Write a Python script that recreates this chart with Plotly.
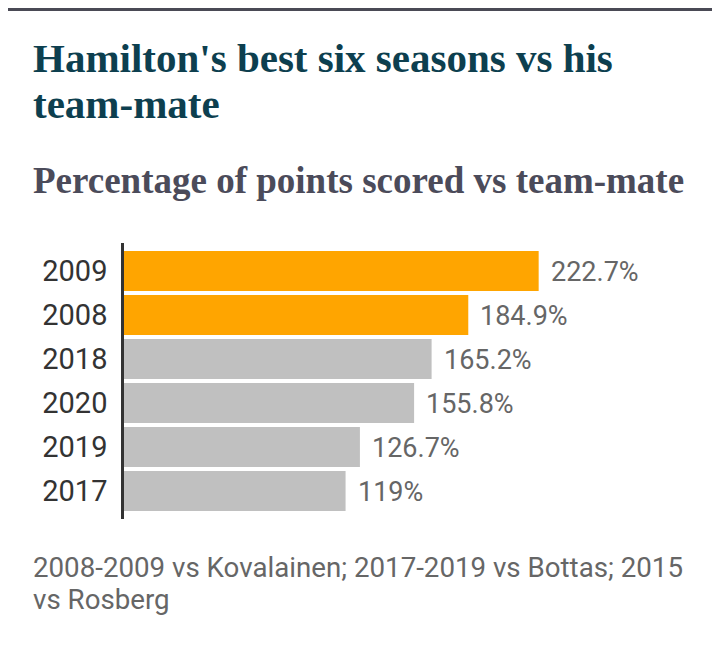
import plotly.graph_objects as go

# ---- data ----
years = ["2009", "2008", "2018", "2020", "2019", "2017"]
pct = [222.7, 184.9, 165.2, 155.8, 126.7, 119]
value_labels = ["222.7%", "184.9%", "165.2%", "155.8%", "126.7%", "119%"]
highlight = [True, True, False, False, False, False]

title_lines = ["Hamilton's best six seasons vs his", "team-mate"]
subtitle = "Percentage of points scored vs team-mate"
footer_lines = ["2008-2009 vs Kovalainen; 2017-2019 vs Bottas; 2015", "vs Rosberg"]

# ---- layout geometry (page body adds an 8px offset) ----
OFF = 8
W, H = 720 - OFF, 650 - OFF
L = 124 - OFF
T = 243 - OFF
B = H - (519 - OFF)
R = 20
PW, PH = W - L - R, H - T - B


def px_x(p):
    """screen pixel x -> paper x"""
    return (p - OFF - L) / PW


def px_y(p):
    """screen pixel y -> paper y"""
    return (H - B - (p - OFF)) / PH


ORANGE = "#FFA500"
GREY = "#C0C0C0"
colors = [ORANGE if h else GREY for h in highlight]

fig = go.Figure(
    go.Bar(
        x=pct,
        y=years,
        orientation="h",
        marker=dict(color=colors, line=dict(width=0)),
        hoverinfo="skip",
    )
)

annotations = []
for i, (v, lab) in enumerate(zip(pct, value_labels)):
    annotations.append(dict(
        x=v, y=i, xref="x", yref="y", text=lab, showarrow=False,
        xanchor="left", yanchor="middle", xshift=10, yshift=-1,
        font=dict(family="Roboto", size=27, color="#666666"),
    ))

title_font = dict(family="Liberation Serif", size=41, color="#0d3f4f")
annotations.append(dict(x=px_x(31), y=px_y(58), xref="paper", yref="paper",
                        text="<b>%s</b>" % title_lines[0], showarrow=False,
                        xanchor="left", yanchor="middle", font=title_font))
annotations.append(dict(x=px_x(31), y=px_y(104), xref="paper", yref="paper",
                        text="<b>%s</b>" % title_lines[1], showarrow=False,
                        xanchor="left", yanchor="middle", font=title_font))
annotations.append(dict(x=px_x(31), y=px_y(181), xref="paper", yref="paper",
                        text="<b>%s</b>" % subtitle, showarrow=False,
                        xanchor="left", yanchor="middle",
                        font=dict(family="Liberation Serif", size=37, color="#4b4b5a")))
foot_font = dict(family="Roboto", size=27.7, color="#666666")
annotations.append(dict(x=px_x(31), y=px_y(567), xref="paper", yref="paper",
                        text=footer_lines[0], showarrow=False,
                        xanchor="left", yanchor="middle", font=foot_font))
annotations.append(dict(x=px_x(31), y=px_y(599), xref="paper", yref="paper",
                        text=footer_lines[1], showarrow=False,
                        xanchor="left", yanchor="middle", font=foot_font))

pad = 6 / 44
fig.update_layout(
    width=W, height=H,
    margin=dict(l=L, r=R, t=T, b=B, pad=0),
    paper_bgcolor="white", plot_bgcolor="white",
    showlegend=False,
    bargap=4 / 44,
    xaxis=dict(range=[0, PW / 1.862], visible=False, fixedrange=True),
    yaxis=dict(
        type="category",
        categoryorder="array", categoryarray=years,
        range=[len(years) - 0.5 + pad, -0.5 - pad],
        showline=True, linecolor="#333333", linewidth=2.5,
        showgrid=False, zeroline=False,
        ticks="", ticklabelstandoff=8,
        tickfont=dict(family="Roboto", size=29, color="#333333"),
        fixedrange=True,
    ),
    annotations=annotations,
    shapes=[dict(type="line", xref="paper", yref="paper",
                 x0=px_x(0), x1=px_x(720), y0=1 + (T - 1.5) / PH, y1=1 + (T - 1.5) / PH,
                 line=dict(color="#4a4a55", width=3))],
)

fig.write_html("out.html", config={"displayModeBar": False})
